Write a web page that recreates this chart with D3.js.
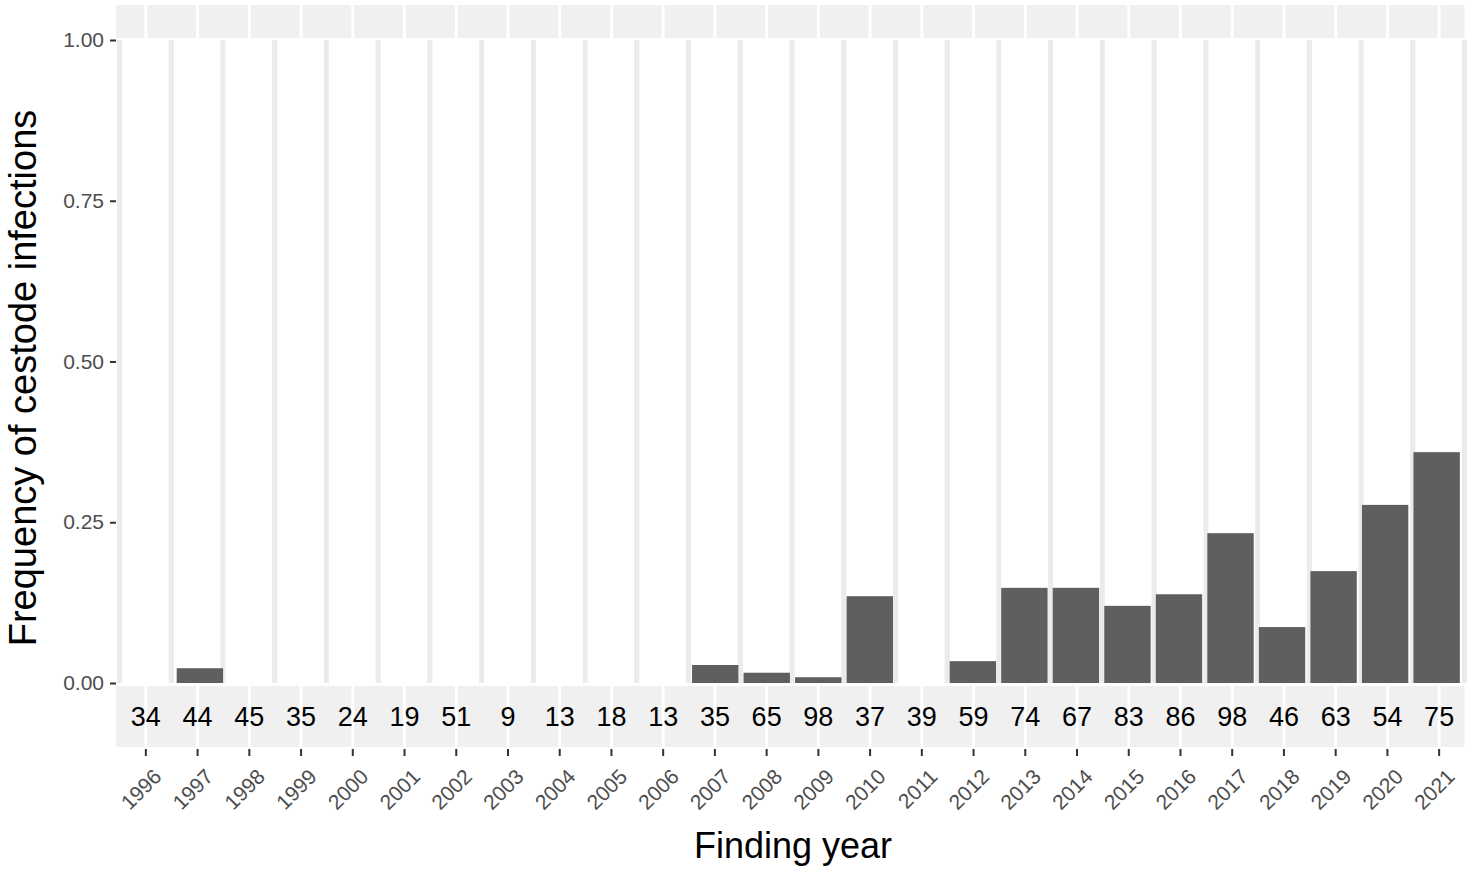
<!DOCTYPE html><html><head><meta charset="utf-8">
<script src="https://cdn.jsdelivr.net/npm/d3@7"></script>
<style>body{margin:0;background:#fff}text{font-family:"Liberation Sans",Arial,sans-serif}</style></head><body>
<svg id="c" width="1477" height="873"></svg>
<script>
const years=["1996","1997","1998","1999","2000","2001","2002","2003","2004","2005","2006","2007","2008","2009","2010","2011","2012","2013","2014","2015","2016","2017","2018","2019","2020","2021"];
const freq=[0,0.023,0,0,0,0,0,0,0,0,0,0.028,0.016,0.009,0.135,0,0.034,0.148,0.148,0.120,0.138,0.233,0.087,0.174,0.277,0.359];
const counts=[34,44,45,35,24,19,51,9,13,18,13,35,65,98,37,39,59,74,67,83,86,98,46,63,54,75];
const yTicks=[0,0.25,0.5,0.75,1];
const svg=d3.select("#c");
const L=120,R=1465,T=40,B=683;
const x=d3.scaleBand().domain(years).range([L,R]).padding(0.1);
const xb=d3.scaleBand().domain(years).range([L,R]);
const y=d3.scaleLinear().domain([0,1]).range([B,T]);
const cx=d=>xb(d)+xb.bandwidth()/2;
const edges=years.map(d=>xb(d)).concat([R]);
svg.selectAll(".vg").data(edges).join("rect").attr("x",d=>d-3).attr("width",5).attr("y",T).attr("height",B-T).attr("fill","#ebebeb");
const bnds=[116].concat(years.map(cx)).concat([1466]);
const segs=d3.pairs(bnds);
svg.selectAll(".ts").data(segs).join("rect").attr("x",(d,i)=>d[0]+(i?1.5:0)).attr("width",(d,i)=>d[1]-d[0]-(i?3:1.5)).attr("y",5).attr("height",33).attr("fill","#f0f0f0");
svg.selectAll(".bs").data(segs).join("rect").attr("x",(d,i)=>d[0]+(i?1.5:0)).attr("width",(d,i)=>d[1]-d[0]-(i?3:1.5)).attr("y",686).attr("height",61).attr("fill","#f0f0f0");
svg.selectAll(".bar").data(years).join("rect").attr("x",d=>x(d)).attr("width",x.bandwidth()).attr("y",(d,i)=>y(freq[i])).attr("height",(d,i)=>B-y(freq[i])).attr("fill","#5f5f5f");
svg.selectAll(".cnt").data(years).join("text").attr("x",cx).attr("y",726).attr("text-anchor","middle").attr("font-size",27).attr("fill","#000").text((d,i)=>counts[i]);
const ya=svg.append("g").attr("transform",`translate(${L-4},0)`).call(d3.axisLeft(y).tickValues(yTicks).tickFormat(d3.format(".2f")).tickSize(6).tickPadding(6));
ya.attr("font-size",null).attr("font-family",null);
ya.select(".domain").remove();
ya.selectAll("line").attr("stroke","#333").attr("stroke-width",2);
ya.selectAll("text").style("font-size","21px").attr("fill","#4d4d4d");
const xa=svg.append("g").attr("transform","translate(0,749)").call(d3.axisBottom(xb).tickSize(7).tickPadding(4));
xa.attr("font-size",null).attr("font-family",null);
xa.select(".domain").remove();
xa.selectAll("line").attr("stroke","#333").attr("stroke-width",2);
xa.selectAll("text").style("font-size","21px").attr("fill","#4d4d4d").attr("text-anchor","end").attr("dy","0.35em").attr("transform","translate(4,16) rotate(-45)");
svg.append("text").attr("x",793).attr("y",858).attr("text-anchor","middle").attr("font-size",36).text("Finding year");
svg.append("text").attr("transform","translate(36,378) rotate(-90)").attr("text-anchor","middle").attr("font-size",38).text("Frequency of cestode infections");
</script></body></html>
